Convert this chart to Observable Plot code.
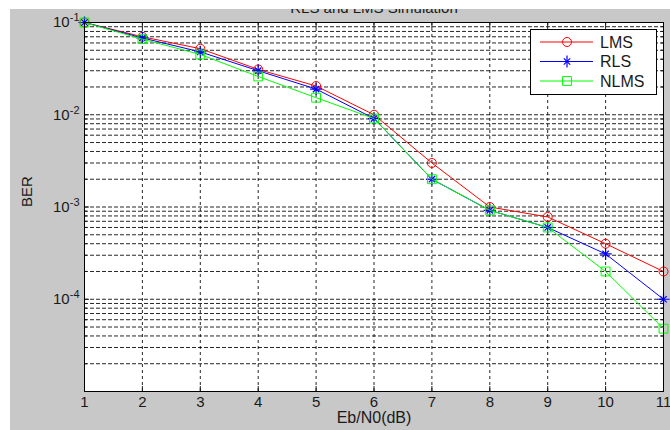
<!DOCTYPE html>
<html><head><meta charset="utf-8">
<script src="https://cdn.jsdelivr.net/npm/d3@7"></script>
<script src="https://cdn.jsdelivr.net/npm/@observablehq/plot@0.6"></script>
<style>
html,body{margin:0;padding:0;background:#fff;}
#fig{position:absolute;left:10px;top:9px;width:660px;height:421px;background:#c8c8c8;overflow:hidden;font-family:"Liberation Sans",Arial,sans-serif;}
#fig > svg.main{position:absolute;left:0;top:0;}
#fig > svg#legend{position:absolute;left:520px;top:20px;}
</style></head><body><div id="fig"></div>
<script>
const ebn0 = [1, 2, 3, 4, 5, 6, 7, 8, 9, 10, 11];
const lms  = [0.1, 0.07, 0.052, 0.031, 0.0205, 0.01, 0.003, 0.001, 0.00078, 0.0004, 0.0002];
const rls  = [0.1, 0.068, 0.048, 0.030, 0.019, 0.0091, 0.002, 0.00092, 0.0006, 0.00031, 0.0001];
const nlms = [0.1, 0.066, 0.045, 0.026, 0.0153, 0.0091, 0.002, 0.00092, 0.0006, 0.0002, 0.000048];
const seriesNames  = ["LMS", "RLS", "NLMS"];
const seriesColors = ["#ff0000", "#0000ff", "#00ff00"];
const xTicks = [1, 2, 3, 4, 5, 6, 7, 8, 9, 10, 11];
const yDecades = [1e-5, 1e-4, 1e-3, 1e-2, 1e-1];
const yLabelTicks = [1e-4, 1e-3, 1e-2, 1e-1];
const yMinorMult = [2, 3, 4, 5, 6, 7, 8, 9];
const titleText = "RLS and LMS Simulation";
const xTitle = "Eb/N0(dB)";
const yTitle = "BER";

const yMinor = yDecades.slice(0, -1).flatMap(d => yMinorMult.map(m => d * m));
const rows = (vals, name) => ebn0.map((x, i) => ({x, y: vals[i], name}));
const dLMS = rows(lms, "LMS"), dRLS = rows(rls, "RLS"), dNLMS = rows(nlms, "NLMS");

const dash = {stroke: "#000", strokeWidth: 1, strokeDasharray: "4,2", strokeOpacity: 0.85};
const noText = () => "";

const plot = Plot.plot({
  width: 660, height: 421,
  marginLeft: 74, marginRight: 7, marginTop: 13, marginBottom: 39,
  style: {background: "transparent", fontFamily: "'Liberation Sans', Arial, sans-serif", fontSize: "15px", color: "#1a1a1a"},
  x: {domain: [1, 11]},
  y: {type: "log", domain: [1e-5, 1e-1]},
  marks: [
    Plot.frame({fill: "#fff", stroke: null}),
    Plot.ruleY([...yMinor, ...yDecades.slice(1, -1)], dash),
    Plot.ruleX(xTicks.slice(1, -1), {...dash, strokeDasharray: "3,3"}),
    Plot.axisX({anchor: "bottom", ticks: xTicks, tickSize: -5, tickFormat: noText, label: null}),
    Plot.axisX({anchor: "top", ticks: xTicks, tickSize: -5, tickFormat: noText, label: null}),
    Plot.axisY({anchor: "left", ticks: yDecades, tickSize: -5, tickFormat: noText, label: null}),
    Plot.axisY({anchor: "left", ticks: yMinor, tickSize: -3, tickFormat: noText, label: null}),
    Plot.axisY({anchor: "right", ticks: yDecades, tickSize: -5, tickFormat: noText, label: null}),
    Plot.axisY({anchor: "right", ticks: yMinor, tickSize: -3, tickFormat: noText, label: null}),
    Plot.axisX({anchor: "bottom", ticks: xTicks, tickSize: 0, tickPadding: 5, label: null, fontSize: 15}),
    Plot.axisY({anchor: "left", ticks: yLabelTicks, tickSize: 0, tickPadding: 5, label: null, fontSize: 15,
      tickFormat: d => "10^" + Math.round(Math.log10(d))}),
    Plot.line(dLMS, {x: "x", y: "y", stroke: seriesColors[0], strokeWidth: 1}),
    Plot.dot(dLMS, {x: "x", y: "y", r: 4.5, stroke: seriesColors[0], strokeWidth: 1, fill: "none"}),
    Plot.line(dRLS, {x: "x", y: "y", stroke: seriesColors[1], strokeWidth: 1}),
    Plot.dot(dRLS, {x: "x", y: "y", symbol: "plus", r: 4, stroke: seriesColors[1], strokeWidth: 1.2}),
    Plot.dot(dRLS, {x: "x", y: "y", symbol: "times", r: 3, stroke: seriesColors[1], strokeWidth: 1.2}),
    Plot.line(dNLMS, {x: "x", y: "y", stroke: seriesColors[2], strokeWidth: 1}),
    Plot.dot(dNLMS, {x: "x", y: "y", symbol: "square", r: 5, stroke: seriesColors[2], strokeWidth: 1, fill: "none"}),
    Plot.frame({stroke: "#000", strokeWidth: 1}),
    Plot.text([xTitle], {text: d => d, frameAnchor: "bottom", dy: 31, fontSize: 16}),
    Plot.text([yTitle], {text: d => d, frameAnchor: "left", dx: -57, rotate: -90, fontSize: 15}),
    Plot.text([titleText], {text: d => d, frameAnchor: "top", dy: -10, lineAnchor: "bottom", fontSize: 15})
  ]
});
plot.classList.add("main");

// superscript exponents on y tick labels
d3.select(plot).selectAll('[aria-label="y-axis tick label"] text').each(function() {
  const t = d3.select(this);
  const s = t.text();
  if (!s.startsWith("10^")) return;
  const exp = s.slice(3);
  t.text(null);
  t.append("tspan").text("10");
  t.append("tspan").attr("dy", "-0.55em").attr("font-size", "11px").text(exp);
});

const fig = document.getElementById("fig");
fig.appendChild(plot);

// legend
const lg = d3.select(fig).append("svg").attr("id", "legend").attr("width", 127).attr("height", 66)
  .style("font-family", "'Liberation Sans', Arial, sans-serif");
lg.append("rect").attr("x", 0.5).attr("y", 0.5).attr("width", 126).attr("height", 65)
  .attr("fill", "#fff").attr("stroke", "#000");
const legSymbols = [[d3.symbolCircle, 4.5], [d3.symbolPlus, 4], [d3.symbolSquare, 5]];
seriesNames.forEach((name, i) => {
  const g = lg.append("g").attr("transform", `translate(0,${13 + i * 19.5})`);
  g.append("line").attr("x1", 10).attr("x2", 63).attr("stroke", seriesColors[i]);
  const [sym, r] = legSymbols[i];
  g.append("path").attr("transform", "translate(37,0)")
    .attr("d", d3.symbol(sym, Math.PI * r * r)()).attr("fill", "none")
    .attr("stroke", seriesColors[i]).attr("stroke-width", i === 1 ? 1.2 : 1);
  if (i === 1) g.append("path").attr("transform", "translate(37,0)")
    .attr("d", d3.symbol(d3.symbolTimes, Math.PI * 9)()).attr("fill", "none")
    .attr("stroke", seriesColors[i]).attr("stroke-width", 1.2);
  g.append("text").attr("x", 70).attr("dy", "0.35em").attr("font-size", 16).attr("fill", "#1a1a1a").text(name);
});
</script></body></html>
